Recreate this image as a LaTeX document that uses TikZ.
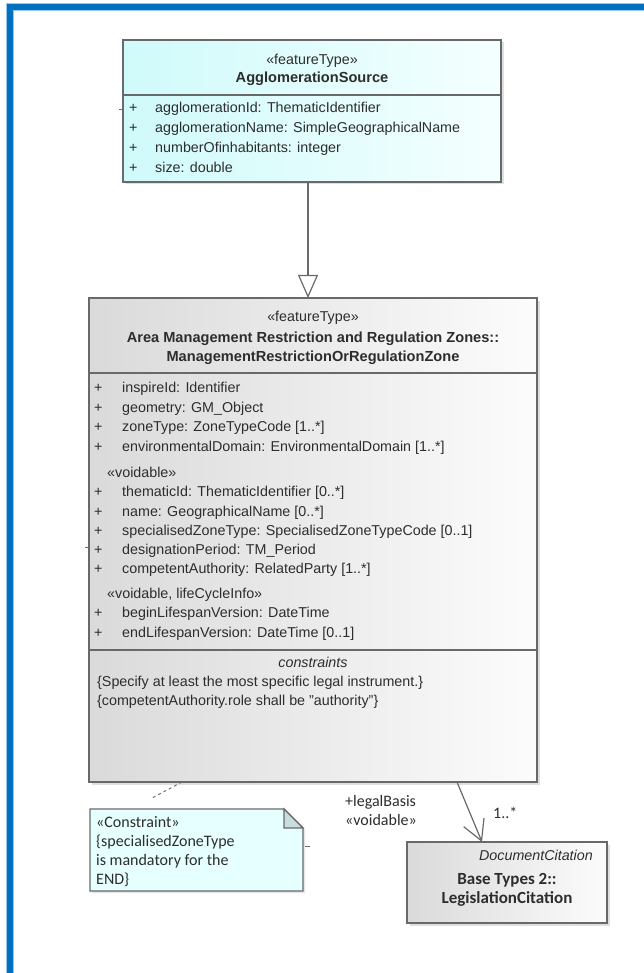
\documentclass[tikz,border=0pt]{standalone}
\usepackage{fontspec}
\setmainfont{Liberation Sans}
\newfontfamily\calib{Carlito}
\usetikzlibrary{arrows.meta,shadows}
\definecolor{frameblue}{RGB}{0,112,192}
\definecolor{framelight}{RGB}{150,200,235}
\definecolor{boxline}{RGB}{105,105,105}
\definecolor{cyanl}{RGB}{208,250,250}
\definecolor{cyanr}{RGB}{244,255,255}
\definecolor{grayl}{RGB}{218,218,218}
\definecolor{grayr}{RGB}{252,252,252}
\definecolor{notefill}{RGB}{230,255,255}
\definecolor{foldfill}{RGB}{200,222,222}
\definecolor{txt}{RGB}{45,45,45}
\newcommand\attrfont{\fontsize{14.3pt}{19.5pt}\selectfont}
\newcommand\attrbold{\fontsize{14.6pt}{19.5pt}\selectfont\bfseries}
\newcommand\attrital{\fontsize{14.3pt}{19.5pt}\selectfont\itshape}
\newcommand\notefont{\calib\fontsize{16pt}{19pt}\selectfont}
\newcommand\notebold{\calib\fontsize{17pt}{19pt}\selectfont\bfseries}
\begin{document}
\begin{tikzpicture}[x=1pt,y=-1pt,
  umlbox/.style={draw=boxline, line width=1.2pt, inner sep=0pt, outer sep=0pt,
     drop shadow={shadow xshift=2.5pt, shadow yshift=-2.5pt, opacity=0.25}},
  lbl/.style={anchor=base west, inner sep=0pt, text=txt, font=\attrfont},
  ctr/.style={anchor=base, inner sep=0pt, text=txt, font=\attrfont},
  nlbl/.style={anchor=base west, inner sep=0pt, text=txt, font=\notefont},
  sep/.style={draw=boxline, line width=1.2pt},
  tick/.style={draw=boxline, line width=0.9pt},
  gen/.style={draw=boxline, line width=1.2pt, -{Triangle[open,length=23pt,width=20pt,fill=white]}},
  assoc/.style={draw=boxline, line width=1.2pt, -{Straight Barb[length=20pt,width=22pt]}},
  anchorline/.style={draw=boxline, line width=0.9pt, dashed}
]
\useasboundingbox (0,0) rectangle (644,973);
\fill[white] (0,0) rectangle (644,973);
% blue frame
\draw[framelight, line width=8pt] (9.5,973) -- (9.5,7.5) -- (644,7.5);
\draw[frameblue, line width=6pt] (9.5,973) -- (9.5,7.5) -- (644,7.5);

% ---------- top class ----------
\node[umlbox, minimum width=378pt, minimum height=142pt, left color=cyanl, right color=cyanr] (top) at (312,111) {};
\draw[sep] (123,95) -- (501,95);
\node[ctr] (tst) at (312,64.5) {«featureType»};
\node[ctr, font=\attrbold] (tnm) at (312,83) {AgglomerationSource};
\foreach \i/\yy/\tt in {1/112.5/{agglomerationId: ThematicIdentifier},
                        2/132.5/{agglomerationName: SimpleGeographicalName},
                        3/152.5/{numberOfinhabitants: integer},
                        4/172.5/{size: double}}{
  \node[lbl] (tp\i) at (129,\yy) {+};
  \node[lbl] (ta\i) at (155,\yy) {\tt};
}
\coordinate (tt1) at (119,109);
\coordinate (tt2) at (123,109);
\draw[tick] (tt1) -- (tt2);

% ---------- middle class ----------
\node[umlbox, minimum width=448pt, minimum height=484pt, left color=grayl, right color=grayr] (mid) at (313,540) {};
\draw[sep] (89,373) -- (537,373);
\draw[sep] (89,650) -- (537,650);
\node[ctr] (mst) at (313,321.5) {«featureType»};
\node[ctr, font=\attrbold] (mn1) at (313,342) {Area Management Restriction and Regulation Zones::};
\node[ctr, font=\attrbold] (mn2) at (313,361) {ManagementRestrictionOrRegulationZone};
\foreach \i/\yy/\tt in {1/392.5/{inspireId: Identifier},
                        2/412/{geometry: GM\_Object},
                        3/431.5/{zoneType: ZoneTypeCode [1..*]},
                        4/451/{environmentalDomain: EnvironmentalDomain [1..*]},
                        5/496.5/{thematicId: ThematicIdentifier [0..*]},
                        6/516/{name: GeographicalName [0..*]},
                        7/535/{specialisedZoneType: SpecialisedZoneTypeCode [0..1]},
                        8/554/{designationPeriod: TM\_Period},
                        9/573.5/{competentAuthority: RelatedParty [1..*]},
                        10/617.5/{beginLifespanVersion: DateTime},
                        11/637/{endLifespanVersion: DateTime [0..1]}}{
  \node[lbl] (mp\i) at (94,\yy) {+};
  \node[lbl] (ma\i) at (122,\yy) {\tt};
}
\node[lbl] (mv1) at (107,477) {«voidable»};
\node[lbl] (mv2) at (107,598.5) {«voidable, lifeCycleInfo»};
\node[ctr, font=\attrital] (mcs) at (313,667.5) {constraints};
\node[lbl] (mc1) at (97,686) {\{Specify at least the most specific legal instrument.\}};
\node[lbl] (mc2) at (97,705) {\{competentAuthority.role shall be "authority"\}};
\coordinate (mt1) at (85,547);
\coordinate (mt2) at (89,547);
\draw[tick] (mt1) -- (mt2);

% ---------- generalization ----------
\draw[gen] ([xshift=-4pt]top.south) -- ([xshift=-5pt]mid.north);

% ---------- note ----------
\node[minimum width=213pt, minimum height=82pt, inner sep=0pt, outer sep=0pt] (note) at (196.5,850) {};
\draw[draw=boxline, line width=1.2pt, fill=notefill,
      drop shadow={shadow xshift=2pt, shadow yshift=-2pt, opacity=0.2}]
  (note.south west) -- (note.north west) -- ([xshift=-19pt]note.north east)
  -- ([yshift=-19pt]note.north east) -- (note.south east) -- cycle;
\draw[draw=boxline, line width=1.2pt, fill=foldfill]
  ([xshift=-19pt]note.north east) -- ([xshift=-19pt,yshift=-19pt]note.north east)
  -- ([yshift=-19pt]note.north east) -- cycle;
\node[nlbl] (n1) at (96,827) {«Constraint»};
\node[nlbl] (n2) at (96,846) {\{specialisedZoneType};
\node[nlbl] (n3) at (96,865) {is mandatory for the};
\node[nlbl] (n4) at (96,884) {END\}};
\coordinate (nd) at (152,798);
\draw[anchorline] ([xshift=-131pt]mid.south) -- (nd);
\coordinate (tk1) at (305,846);
\coordinate (tk2) at (310,846);
\draw[tick] (tk1) -- (tk2);

% ---------- bottom class ----------
\node[umlbox, minimum width=200pt, minimum height=81pt, left color=grayl, right color=grayr] (bot) at (507,882.5) {};
\node[anchor=base east, inner sep=0pt, text=txt, font=\attrital] (bst) at (593,860) {DocumentCitation};
\node[ctr, font=\notebold] (bn1) at (507,884) {Base Types 2::};
\node[ctr, font=\notebold] (bn2) at (507,903) {LegislationCitation};

% ---------- association ----------
\draw[assoc] ([xshift=144pt]mid.south) -- ([xshift=-25pt]bot.north);
\node[nlbl] (r1) at (345,806) {+legalBasis};
\node[nlbl] (r2) at (345,825) {«voidable»};
\node[nlbl] (m1) at (493,818) {1..*};
\end{tikzpicture}
\end{document}
